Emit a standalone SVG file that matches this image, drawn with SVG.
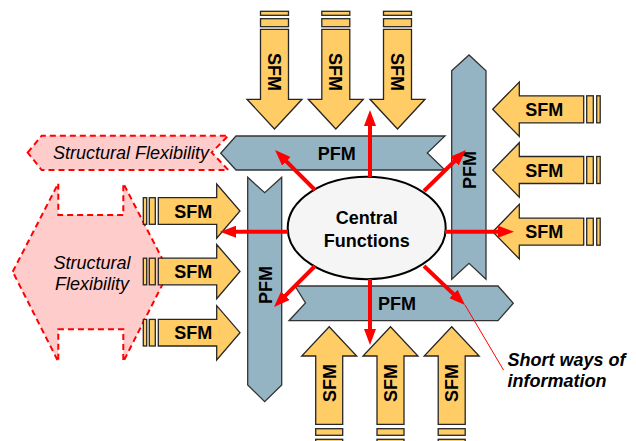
<svg xmlns="http://www.w3.org/2000/svg" width="636" height="441" viewBox="0 0 636 441">
<style>
.sfm{fill:#FFCC66;stroke:#262626;stroke-width:1.3}
.pfm{fill:#94B4C4;stroke:#333;stroke-width:1.3}
.flex{fill:#FFCCCC;stroke:#FF0000;stroke-width:2;stroke-dasharray:6,4}
.lbl{font-family:"Liberation Sans",Arial,sans-serif;font-weight:bold;font-size:18px;fill:#000;text-anchor:middle}
.it{font-family:"Liberation Sans",Arial,sans-serif;font-style:italic;font-size:18px;fill:#000;text-anchor:middle}
.red{stroke:#FF0000;stroke-width:4;fill:none}
</style>
<defs>
<marker id="ah" viewBox="0 0 16 12" refX="6" refY="6" markerWidth="16" markerHeight="12" markerUnits="userSpaceOnUse" orient="auto">
<path d="M0,0 L16,6 L0,12 Z" fill="#FF0000"/>
</marker>
</defs>

<g id="flex-top">
<polygon class="flex" points="27.7,152.5 41.7,135.7 228.3,135.7 211.7,152.5 228.3,170 41.7,170"/>
<text class="it" x="131" y="158.5">Structural Flexibility</text>
</g>
<g id="flex-left">
<polygon class="flex" points="12.7,271.7 58.3,183.3 58.3,215 123.3,215 123.3,183.3 168.9,271.7 123.3,361.7 123.3,329.3 58.3,329.3 58.3,361.7"/>
<text class="it" x="92" y="268.5">Structural</text>
<text class="it" x="92" y="290">Flexibility</text>
</g>

<g id="pfm-top">
<polygon class="pfm" points="220.7,153.3 236,136 445,136 427.3,153 445,170 236,170"/>
<text class="lbl" x="336.7" y="159.8">PFM</text>
</g>
<g id="pfm-right">
<polygon class="pfm" points="451.7,70.7 469,55 486,70.7 486,279.3 469,263.3 451.7,279.3"/>
<text class="lbl" transform="translate(469,170) rotate(-90)" x="0" y="6.5">PFM</text>
</g>
<g id="pfm-left">
<polygon class="pfm" points="247.7,177.3 264.7,192.7 281.7,177.3 281.7,385 264.7,401.7 247.7,385"/>
<text class="lbl" transform="translate(265,285) rotate(-90)" x="0" y="6.5">PFM</text>
</g>
<g id="pfm-bottom">
<polygon class="pfm" points="295,286 498,286 513.3,303.3 498,320.7 289,320.7 305.5,303"/>
<text class="lbl" x="397" y="309.5">PFM</text>
</g>

<g id="sfm-top-1">
<rect class="sfm" x="260.5" y="11.3" width="28" height="4"/>
<rect class="sfm" x="260.5" y="18.7" width="28" height="8"/>
<polygon class="sfm" points="260.5,29.3 288.5,29.3 288.5,99.3 302,99.3 274.5,129 247,99.3 260.5,99.3"/>
<text class="lbl" transform="translate(274.5,72) rotate(90)" x="0" y="6.5">SFM</text>
</g>
<g id="sfm-top-2">
<rect class="sfm" x="321.8" y="11.3" width="28" height="4"/>
<rect class="sfm" x="321.8" y="18.7" width="28" height="8"/>
<polygon class="sfm" points="321.8,29.3 349.8,29.3 349.8,99.3 363.3,99.3 335.8,129 308.3,99.3 321.8,99.3"/>
<text class="lbl" transform="translate(335.8,72) rotate(90)" x="0" y="6.5">SFM</text>
</g>
<g id="sfm-top-3">
<rect class="sfm" x="383.5" y="11.3" width="28" height="4"/>
<rect class="sfm" x="383.5" y="18.7" width="28" height="8"/>
<polygon class="sfm" points="383.5,29.3 411.5,29.3 411.5,99.3 425,99.3 397.5,129 370,99.3 383.5,99.3"/>
<text class="lbl" transform="translate(397.5,72) rotate(90)" x="0" y="6.5">SFM</text>
</g>

<g id="sfm-right-1">
<rect class="sfm" x="596.7" y="95.8" width="3.5" height="27"/>
<rect class="sfm" x="586.7" y="95.8" width="6.6" height="27"/>
<polygon class="sfm" points="583.7,95.8 583.7,122.8 519.3,122.8 519.3,136.5 492.7,109.3 519.3,82 519.3,95.8"/>
<text class="lbl" x="544.3" y="115.8">SFM</text>
</g>
<g id="sfm-right-2">
<rect class="sfm" x="596.7" y="156.5" width="3.5" height="27"/>
<rect class="sfm" x="586.7" y="156.5" width="6.6" height="27"/>
<polygon class="sfm" points="583.7,156.5 583.7,183.5 519.3,183.5 519.3,197.2 492.7,170 519.3,142.7 519.3,156.5"/>
<text class="lbl" x="544.3" y="176.5">SFM</text>
</g>
<g id="sfm-right-3">
<rect class="sfm" x="596.7" y="218.2" width="3.5" height="27"/>
<rect class="sfm" x="586.7" y="218.2" width="6.6" height="27"/>
<polygon class="sfm" points="583.7,218.2 583.7,245.2 519.3,245.2 519.3,258.9 492.7,231.7 519.3,204.4 519.3,218.2"/>
<text class="lbl" x="544.3" y="238.2">SFM</text>
</g>

<g id="sfm-left-1">
<rect class="sfm" x="143.3" y="197.7" width="3.4" height="26.6"/>
<rect class="sfm" x="149.3" y="197.7" width="6" height="26.6"/>
<polygon class="sfm" points="158.3,197.7 216.7,197.7 216.7,184 240,211 216.7,238.2 216.7,224.3 158.3,224.3"/>
<text class="lbl" x="193.3" y="217.5">SFM</text>
</g>
<g id="sfm-left-2">
<rect class="sfm" x="143.3" y="258.2" width="3.4" height="26.6"/>
<rect class="sfm" x="149.3" y="258.2" width="6" height="26.6"/>
<polygon class="sfm" points="158.3,258.2 216.7,258.2 216.7,244.5 240,271.5 216.7,298.7 216.7,284.8 158.3,284.8"/>
<text class="lbl" x="193.3" y="278">SFM</text>
</g>
<g id="sfm-left-3">
<rect class="sfm" x="143.3" y="319.4" width="3.4" height="26.6"/>
<rect class="sfm" x="149.3" y="319.4" width="6" height="26.6"/>
<polygon class="sfm" points="158.3,319.4 216.7,319.4 216.7,305.7 240,332.7 216.7,359.9 216.7,346 158.3,346"/>
<text class="lbl" x="193.3" y="339.2">SFM</text>
</g>

<g id="sfm-bottom-1">
<rect class="sfm" x="315.7" y="439.3" width="27" height="6"/>
<rect class="sfm" x="315.7" y="428.7" width="27" height="6.6"/>
<polygon class="sfm" points="315.7,424.3 315.7,356 301.7,356 329.2,326.7 356.7,356 342.7,356 342.7,424.3"/>
<text class="lbl" transform="translate(329.2,383) rotate(-90)" x="0" y="6.5">SFM</text>
</g>
<g id="sfm-bottom-2">
<rect class="sfm" x="377" y="439.3" width="27" height="6"/>
<rect class="sfm" x="377" y="428.7" width="27" height="6.6"/>
<polygon class="sfm" points="377,424.3 377,356 363,356 390.5,326.7 418,356 404,356 404,424.3"/>
<text class="lbl" transform="translate(390.5,383) rotate(-90)" x="0" y="6.5">SFM</text>
</g>
<g id="sfm-bottom-3">
<rect class="sfm" x="438.2" y="439.3" width="27" height="6"/>
<rect class="sfm" x="438.2" y="428.7" width="27" height="6.6"/>
<polygon class="sfm" points="438.2,424.3 438.2,356 424.2,356 451.7,326.7 479.2,356 465.2,356 465.2,424.3"/>
<text class="lbl" transform="translate(451.7,383) rotate(-90)" x="0" y="6.5">SFM</text>
</g>

<g id="central">
<ellipse cx="366.7" cy="228" rx="79" ry="51.2" fill="#F5F5F5" stroke="#000" stroke-width="2"/>
<text class="lbl" x="366.7" y="224">Central</text>
<text class="lbl" x="366.7" y="246.5">Functions</text>
</g>

<g id="connectors">
<path class="red" marker-end="url(#ah)" d="M370,177 L370,120"/>
<path class="red" marker-end="url(#ah)" d="M370,279 L370,335"/>
<path class="red" marker-end="url(#ah)" d="M288,231.7 L230,231.7"/>
<path class="red" marker-end="url(#ah)" d="M445,231.7 L504,231.7"/>
<path class="red" marker-end="url(#ah)" d="M315,190 L282.1,157.1"/>
<path class="red" marker-end="url(#ah)" d="M424,191 L458.8,157"/>
<path class="red" marker-end="url(#ah)" d="M315,266 L281.1,299.9"/>
<path class="red" marker-end="url(#ah)" d="M424,266 L457.8,298.1"/>
<line x1="465" y1="305" x2="503.5" y2="370" stroke="#FF0000" stroke-width="1"/>
</g>

<g id="note">
<text font-family="Liberation Sans, Arial, sans-serif" font-weight="bold" font-style="italic" font-size="18" x="507.5" y="365.5">Short ways of</text>
<text font-family="Liberation Sans, Arial, sans-serif" font-weight="bold" font-style="italic" font-size="18" x="507.5" y="387">information</text>
</g>
</svg>
